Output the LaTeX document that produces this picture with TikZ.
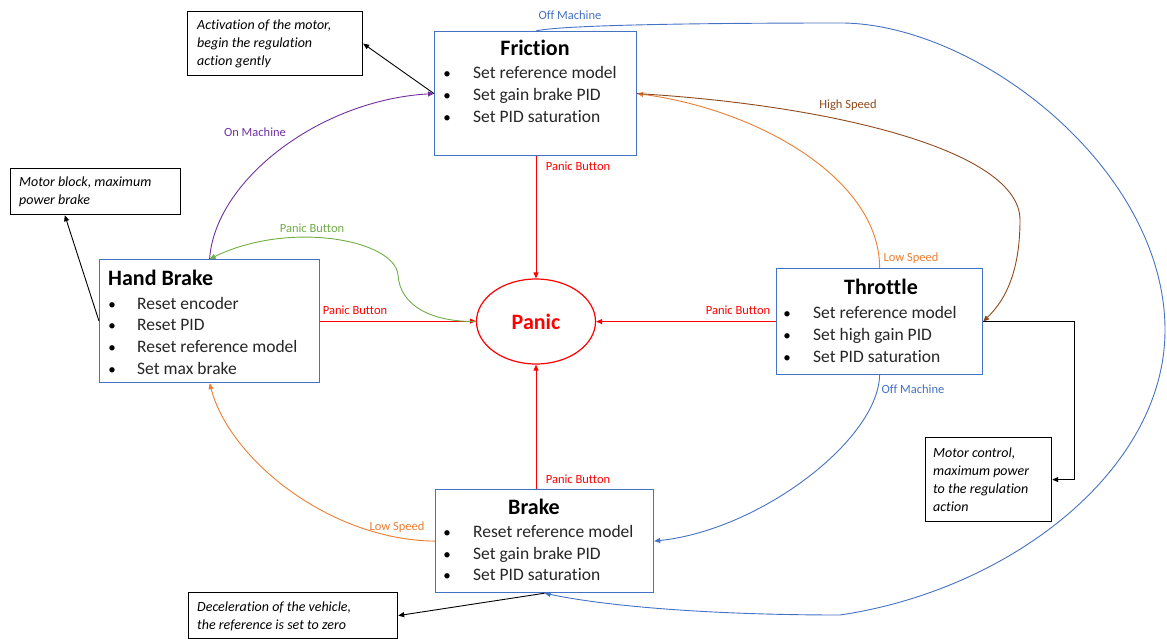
\documentclass[tikz,border=0pt]{standalone}
\usepackage{fontspec}
\setmainfont{Carlito}[Ligatures=NoCommon]
\usetikzlibrary{arrows.meta,shapes.geometric,calc}
\definecolor{boxblue}{HTML}{4472C4}
\definecolor{pred}{HTML}{FF0000}
\definecolor{porange}{HTML}{ED7D31}
\definecolor{pgreen}{HTML}{70AD47}
\definecolor{ppurple}{HTML}{7030A0}
\definecolor{pbrown}{HTML}{8E4A1C}
\begin{document}
\begin{tikzpicture}[x=1pt,y=-1pt,
  stbox/.style={draw=boxblue,line width=1.2pt,fill=white,inner sep=0pt,anchor=north west},
  notebox/.style={draw=black,line width=1.2pt,fill=white,inner sep=0pt,anchor=north west},
  ttl/.style={font=\fontsize{22}{26}\selectfont\bfseries,inner sep=0pt,anchor=base},
  itm/.style={font=\fontsize{17.5}{21}\selectfont,text=black!85,inner sep=0pt,anchor=base west},
  bul/.style={font=\fontsize{15}{18}\selectfont,inner sep=0pt,anchor=base},
  ntxt/.style={font=\fontsize{14}{18}\selectfont\itshape,inner sep=0pt,anchor=base west},
  lbl/.style={font=\fontsize{12.5}{15}\selectfont,inner sep=0pt,anchor=base},
  tip/.style={-{Triangle[length=6pt,width=5pt]}},
  conn/.style={tip,line width=0.9pt},
  blk/.style={conn,draw=black},
  redc/.style={conn,draw=pred}
]
\useasboundingbox (0,0) rectangle (1167,639);

% ---- state boxes ----
\node[stbox,minimum width=202pt,minimum height=124pt] (fric) at (434,31) {};
\node[ttl] (fricT) at (535,56) {Friction};
\node[bul] (fb1) at (447,79) {\textbullet};
\node[itm] (fi1) at (473,79) {Set reference model};
\node[bul] (fb2) at (447,101) {\textbullet};
\node[itm] (fi2) at (473,101) {Set gain brake PID};
\node[bul] (fb3) at (447,123) {\textbullet};
\node[itm] (fi3) at (473,123) {Set PID saturation};

\node[stbox,minimum width=220pt,minimum height=123pt] (hb) at (99,259) {};
\node[ttl,anchor=base west] (hbT) at (108,285) {Hand Brake};
\node[bul] (hbb1) at (112,309) {\textbullet};
\node[itm] (hbi1) at (137,309) {Reset encoder};
\node[bul] (hbb2) at (112,330) {\textbullet};
\node[itm] (hbi2) at (137,330) {Reset PID};
\node[bul] (hbb3) at (112,352) {\textbullet};
\node[itm] (hbi3) at (137,352) {Reset reference model};
\node[bul] (hbb4) at (112,374) {\textbullet};
\node[itm] (hbi4) at (137,374) {Set max brake};

\node[stbox,minimum width=206pt,minimum height=106pt] (thr) at (776,268) {};
\node[ttl] (thrT) at (881,294) {Throttle};
\node[bul] (tb1) at (787,318) {\textbullet};
\node[itm] (ti1) at (813,318) {Set reference model};
\node[bul] (tb2) at (787,340) {\textbullet};
\node[itm] (ti2) at (813,340) {Set high gain PID};
\node[bul] (tb3) at (787,362) {\textbullet};
\node[itm] (ti3) at (813,362) {Set PID saturation};

\node[stbox,minimum width=218pt,minimum height=103pt] (brk) at (435,489) {};
\node[ttl] (brkT) at (534,514) {Brake};
\node[bul] (bb1) at (447,537) {\textbullet};
\node[itm] (bi1) at (473,537) {Reset reference model};
\node[bul] (bb2) at (447,559) {\textbullet};
\node[itm] (bi2) at (473,559) {Set gain brake PID};
\node[bul] (bb3) at (447,580) {\textbullet};
\node[itm] (bi3) at (473,580) {Set PID saturation};

\node[ellipse,draw=pred,line width=1.2pt,minimum width=119pt,minimum height=85pt,inner sep=0pt,
      text=pred,font=\fontsize{22}{26}\selectfont\bfseries] (panic) at (536,321.5) {Panic};

% ---- note boxes ----
\node[notebox,minimum width=175pt,minimum height=64pt] (n1) at (187,11) {};
\node[ntxt] (n1a) at (197,30) {Activation of the motor,};
\node[ntxt] (n1b) at (197,48) {begin the regulation};
\node[ntxt] (n1c) at (197,66) {action gently};

\node[notebox,minimum width=170pt,minimum height=46pt] (n2) at (10,168) {};
\node[ntxt] (n2a) at (19,187) {Motor block, maximum};
\node[ntxt] (n2b) at (19,205) {power brake};

\node[notebox,minimum width=126pt,minimum height=84pt] (n3) at (925,437) {};
\node[ntxt] (n3a) at (933,457) {Motor control,};
\node[ntxt] (n3b) at (933,475) {maximum power};
\node[ntxt] (n3c) at (933,493) {to the regulation};
\node[ntxt] (n3d) at (933,511) {action};

\node[notebox,minimum width=209pt,minimum height=46pt] (n4) at (188,592) {};
\node[ntxt] (n4a) at (197,611) {Deceleration of the vehicle,};
\node[ntxt] (n4b) at (197,629) {the reference is set to zero};

% ---- comment arrows ----
\draw[blk] (fric.west) -- (n1.east);
\draw[blk] (hb.west) -- ($(n2.south west)!0.32!(n2.south east)$);
\draw[blk] (thr.east) -| ([xshift=22pt]n3.east) -- (n3.east);
\draw[blk] (brk.south) -- (n4.east);

% ---- panic transitions ----
\draw[redc] (fric.south -| panic.north) -- (panic.north);
\draw[redc] (hb.east) -- (hb.east -| panic.west);
\draw[redc] (thr.west) -- (thr.west -| panic.east);
\draw[redc] (brk.north -| panic.south) -- (panic.south);
\node[lbl,text=pred] (pbF) at (578,171) {Panic Button};
\node[lbl,text=pred] (pbH) at (355,314) {Panic Button};
\node[lbl,text=pred] (pbT) at (738,314) {Panic Button};
\node[lbl,text=pred] (pbB) at (578,483) {Panic Button};

% ---- other transitions ----
\draw[conn,draw=pgreen] (panic.west) .. controls (430,322) and (400,305) .. (398,275)
      .. controls (395,240) and (290,220) .. (hb.north);
\node[lbl,text=pgreen] (pbG) at (312,233) {Panic Button};

\draw[conn,draw=ppurple] (hb.north) .. controls (215,180) and (320,100) .. (fric.west);
\node[lbl,text=ppurple] (onM) at (255,137) {On Machine};

\draw[conn,draw=porange] (thr.north) .. controls (880,180) and (760,110) .. (fric.east);
\node[lbl,text=porange] (lsT) at (911,261) {Low Speed};

\draw[conn,draw=pbrown] (fric.east) .. controls (830,105) and (1020,150) .. (1020,220)
      .. controls (1020,280) and (1000,305) .. (thr.east);
\node[lbl,text=pbrown] (hsF) at (848,109) {High Speed};

\draw[conn,draw=boxblue] (thr.south) .. controls (878,440) and (760,530) .. (brk.east);
\node[lbl,text=boxblue] (offT) at (913,393) {Off Machine};

\draw[conn,draw=porange] (brk.west) .. controls (330,540) and (230,460) .. (hb.south);
\node[lbl,text=porange] (lsB) at (397,530) {Low Speed};

\draw[conn,draw=boxblue] (fric.north) .. controls (560,25) and (700,23) .. (843,23)
      .. controls (980,25) and (1165,170) .. (1165,330)
      .. controls (1165,470) and (1010,590) .. (840,615)
      .. controls (700,615) and (600,605) .. (brk.south);
\node[lbl,text=boxblue] (offF) at (570,20) {Off Machine};
\end{tikzpicture}
\end{document}
